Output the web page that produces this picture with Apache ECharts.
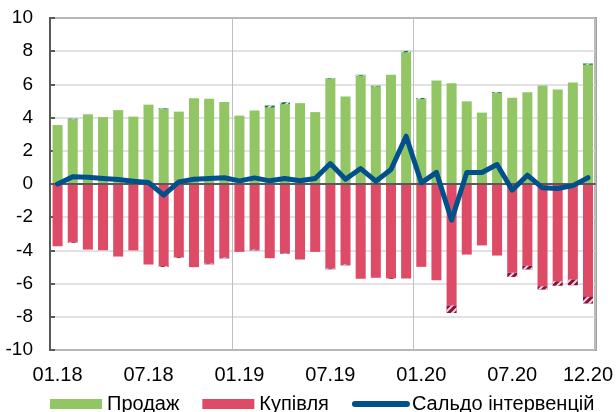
<!DOCTYPE html>
<html>
<head>
    <meta charset="utf-8">
    <title>Інтервенції</title>
    <script src="https://cdn.jsdelivr.net/npm/echarts@6.0.0/dist/echarts.min.js"></script>
    <style>
        body { margin: 0; background: #fff; }
    </style>
</head>
<body>
    <div id="chart" style="width: 616px; height: 412px;"></div>
    <script>
        // months 01.18 .. 12.20
        var months = [
            '01.18','02.18','03.18','04.18','05.18','06.18','07.18','08.18','09.18','10.18','11.18','12.18',
            '01.19','02.19','03.19','04.19','05.19','06.19','07.19','08.19','09.19','10.19','11.19','12.19',
            '01.20','02.20','03.20','04.20','05.20','06.20','07.20','08.20','09.20','10.20','11.20','12.20'
        ];

        // sales (solid part) and the small hatched top
        var sales = [3.55, 3.9, 4.2, 4.03, 4.45, 4.06, 4.78, 4.52, 4.36, 5.16, 5.14, 4.94,
                     4.12, 4.43, 4.6, 4.8, 4.87, 4.33, 6.34, 5.27, 6.52, 5.87, 6.58, 7.92,
                     5.1, 6.23, 6.07, 4.98, 4.3, 5.48, 5.19, 5.53, 5.94, 5.69, 6.11, 7.18];
        var salesHatch = [0, 0.04, 0, 0, 0, 0, 0, 0.04, 0, 0, 0, 0,
                          0, 0, 0.13, 0.13, 0, 0, 0.04, 0, 0.06, 0.05, 0, 0.1,
                          0.08, 0, 0, 0, 0, 0.05, 0, 0, 0, 0, 0, 0.08];

        // purchases (solid part) and the hatched tail
        var purchases = [-3.75, -3.49, -3.95, -3.99, -4.37, -4.0, -4.85, -4.95, -4.41, -5.01, -4.79, -4.43,
                         -4.09, -3.95, -4.47, -4.17, -4.55, -4.09, -5.09, -4.85, -5.71, -5.65, -5.67, -5.69,
                         -4.99, -5.8, -7.32, -4.25, -3.7, -4.31, -5.35, -4.93, -6.16, -5.86, -5.75, -6.8];
        var purchasesHatch = [0, -0.05, 0, 0, 0, 0, 0, -0.05, -0.05, 0, -0.05, -0.05,
                              0, -0.05, 0, -0.03, 0, 0, -0.05, -0.05, 0, 0, -0.05, 0,
                              0, 0, -0.45, 0, 0, 0, -0.25, -0.22, -0.2, -0.27, -0.35, -0.4];

        // balance of interventions
        var balance = [0.0, 0.43, 0.4, 0.33, 0.27, 0.17, 0.09, -0.67, 0.13, 0.29, 0.33, 0.38,
                       0.19, 0.37, 0.19, 0.33, 0.19, 0.33, 1.23, 0.29, 0.93, 0.17, 0.87, 2.88,
                       0.07, 0.7, -2.18, 0.69, 0.69, 1.17, -0.37, 0.53, -0.23, -0.27, -0.1, 0.38];

        var font = 'Liberation Sans, Arial, sans-serif';
        var hatch = {
            symbol: 'rect',
            color: 'rgba(255,255,255,0.85)',
            dashArrayX: [1, 0],
            dashArrayY: [2, 3],
            rotation: -Math.PI / 4
        };

        var chart = echarts.init(document.getElementById('chart'));

        var option = {
            animation: false,
            grid: {
                left: 50, right: 19, top: 18, bottom: 62,
                show: true, borderColor: '#595959', borderWidth: 2
            },
            legend: {
                data: [
                    { name: 'Продаж', icon: 'rect' },
                    { name: 'Купівля', icon: 'rect' },
                    // hide the circle marker, keep only the line
                    { name: 'Сальдо інтервенцій', itemStyle: { opacity: 0 },
                      lineStyle: { width: 6, cap: 'round' } }
                ],
                left: 45, top: 389,
                itemWidth: 52, itemHeight: 10, itemGap: 23,
                textStyle: { fontFamily: font, fontSize: 20, color: '#000' }
            },
            xAxis: {
                type: 'category',
                data: months,
                axisLine: { show: false, onZero: false },
                axisTick: { show: false },
                axisLabel: {
                    interval: function (i) { return i % 6 === 0 || i === 35; },
                    margin: 15,
                    fontFamily: font, fontSize: 20, color: '#000'
                },
                splitLine: {
                    show: true,
                    interval: function (i) { return i === 12 || i === 24; },
                    lineStyle: { color: '#bfbfbf', width: 1 }
                }
            },
            yAxis: {
                type: 'value',
                min: -10, max: 10, interval: 2,
                axisLine: { show: true, lineStyle: { color: '#595959', width: 2 } },
                axisTick: { show: true, inside: true, length: 5, lineStyle: { color: '#595959', width: 2 } },
                axisLabel: { margin: 17, fontFamily: font, fontSize: 19, color: '#000' },
                splitLine: { lineStyle: { color: '#d9d9d9', width: 1.5 } }
            },
            series: [
                {
                    name: 'Продаж', type: 'bar', stack: 'a',
                    barCategoryGap: '34%',
                    itemStyle: { color: '#92c563' },
                    data: sales
                },
                {
                    name: 'Продаж*', type: 'bar', stack: 'a',
                    itemStyle: { color: '#1f7a45', decal: hatch },
                    data: salesHatch
                },
                {
                    name: 'Купівля', type: 'bar', stack: 'a',
                    itemStyle: { color: '#dd4b66' },
                    data: purchases
                },
                {
                    name: 'Купівля*', type: 'bar', stack: 'a',
                    itemStyle: { color: '#8a0f3a', decal: hatch },
                    data: purchasesHatch,
                    markLine: {
                        silent: true, symbol: 'none',
                        label: { show: false },
                        lineStyle: { color: '#595959', width: 2, type: 'solid' },
                        data: [{ yAxis: 0 }]
                    }
                },
                {
                    name: 'Сальдо інтервенцій', type: 'line',
                    symbol: 'none',
                    lineStyle: { color: '#00508c', width: 5, cap: 'round', join: 'round' },
                    itemStyle: { color: '#00508c' },
                    z: 5,
                    data: balance
                }
            ]
        };
        chart.setOption(option);
    </script>
</body>
</html>
